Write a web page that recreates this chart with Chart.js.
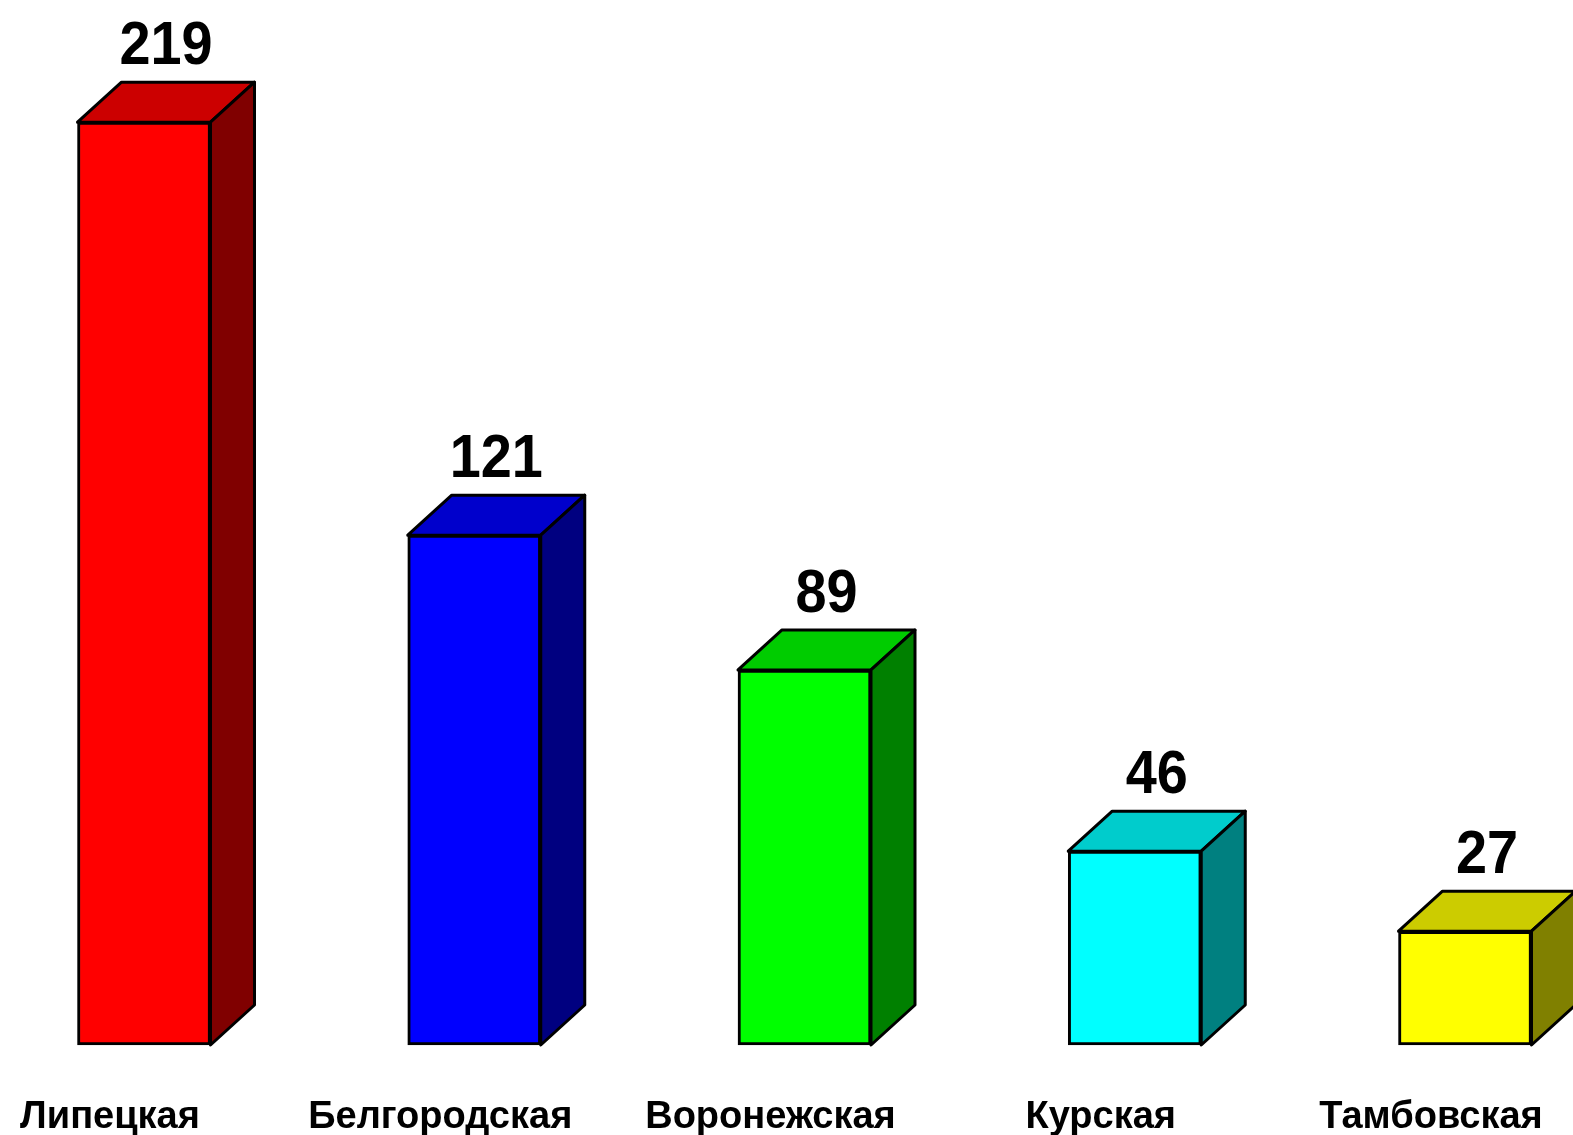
<!DOCTYPE html>
<html>
<head>
<meta charset="utf-8">
<script src="https://cdn.jsdelivr.net/npm/chart.js@4/dist/chart.umd.min.js"></script>
<style>
body{margin:0;background:#fff;overflow:hidden}
#wrap{width:1573px;height:1135px;position:relative}
</style>
</head>
<body>
<div id="wrap"><canvas id="myChart"></canvas></div>
<script>
var regions=["Липецкая","Белгородская","Воронежская","Курская","Тамбовская"];
var values=[219,121,89,46,27];
var frontColors=["#ff0000","#0000ff","#00ff00","#00ffff","#ffff00"];
var topColors=["#cc0000","#0000cc","#00cc00","#00cccc","#cccc00"];
var sideColors=["#800000","#000080","#008000","#008080","#808000"];

var depthX=44, depthY=40;

// top and side faces + value labels
var box3d={
   id:"box3d",
   afterDatasetsDraw:function(chart){
      var ctx=chart.ctx;
      var meta=chart.getDatasetMeta(0);
      ctx.save();
      ctx.lineWidth=3;
      ctx.strokeStyle="#000";
      ctx.lineJoin="round";
      for(var i=0;i<meta.data.length;i++){
         var b=meta.data[i];
         var l=b.x-b.width/2, r=b.x+b.width/2, t=b.y, bot=b.base;
         ctx.beginPath();
         ctx.moveTo(l,t);ctx.lineTo(l+depthX,t-depthY);ctx.lineTo(r+depthX,t-depthY);ctx.lineTo(r,t);ctx.closePath();
         ctx.fillStyle=topColors[i];ctx.fill();ctx.stroke();
         ctx.beginPath();
         ctx.moveTo(r,t);ctx.lineTo(r+depthX,t-depthY);ctx.lineTo(r+depthX,bot-depthY);ctx.lineTo(r,bot);ctx.closePath();
         ctx.fillStyle=sideColors[i];ctx.fill();ctx.stroke();
         // value label, slightly condensed
         ctx.save();
         ctx.translate(b.x+depthX/2, t-depthY-18);
         ctx.scale(0.9,1);
         ctx.fillStyle="#000";
         ctx.textAlign="center";
         ctx.textBaseline="alphabetic";
         ctx.font="bold 62px 'Liberation Sans', Arial, sans-serif";
         ctx.fillText(values[i],0,0);
         ctx.restore();
      }
      ctx.restore();
   }
};

const config={
   type:'bar',
   data:{
      labels:regions,
      datasets:[{
         data:values,
         backgroundColor:frontColors,
         borderColor:"#000",
         borderWidth:3,
         borderSkipped:false,
         barThickness:133,
         clip:false
      }]
   },
   options:{
      responsive:true,
      maintainAspectRatio:false,
      animation:false,
      layout:{padding:{left:144,right:108,top:0,bottom:0}},
      plugins:{legend:{display:false},tooltip:{enabled:false}},
      scales:{
         x:{
            offset:false,
            grid:{display:false},
            border:{display:false},
            afterFit:function(s){s.height=90;s.paddingLeft=0;s.paddingRight=0;},
            ticks:{
               color:"#000",
               labelOffset:-34,
               padding:42,
               maxRotation:0,
               autoSkip:false,
               font:{family:"'Liberation Sans', Arial, sans-serif",size:38,weight:"bold"}
            }
         },
         y:{display:false,min:0,max:248}
      }
   },
   plugins:[box3d]
};
const myChart=new Chart(document.getElementById('myChart'),config);
</script>
</body>
</html>
